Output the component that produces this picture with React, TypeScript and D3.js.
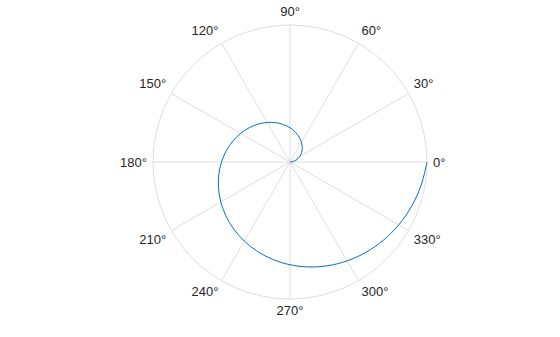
import React from "react";
import * as d3 from "d3";

// Spiral samples (theta in degrees, r in data units)
const thetaDeg = [0, 10, 20, 30, 40, 50, 60, 70, 80, 90, 100, 110, 120, 130, 140, 150, 160, 170, 180, 190, 200, 210, 220, 230, 240, 250, 260, 270, 280, 290, 300, 310, 320, 330, 340, 350, 360];
const rValues = [0, 0.175, 0.349, 0.524, 0.698, 0.873, 1.047, 1.222, 1.396, 1.571, 1.745, 1.92, 2.094, 2.269, 2.443, 2.618, 2.793, 2.967, 3.142, 3.316, 3.491, 3.665, 3.84, 4.014, 4.189, 4.363, 4.538, 4.712, 4.887, 5.061, 5.236, 5.411, 5.585, 5.76, 5.934, 6.109, 6.283];
const thetaTicks = [0, 30, 60, 90, 120, 150, 180, 210, 240, 270, 300, 330];
const rMax = 6.283;

export default function App() {
  const W = 560, H = 337;
  const cx = 290, cy = 162, R = 137;
  const rScale = d3.scaleLinear().domain([0, rMax]).range([0, R]);
  const toRad = (d: number) => (d * Math.PI) / 180;
  const pts: [number, number][] = thetaDeg.map((t, i) => [
    cx + rScale(rValues[i]) * Math.cos(toRad(t)),
    cy - rScale(rValues[i]) * Math.sin(toRad(t)),
  ]);
  const line = d3.line().curve(d3.curveCatmullRom.alpha(0.5));
  const gridColor = "#dedede";
  const labelR = R + 6;

  return (
    <div style={{ position: "fixed", left: 0, top: 0, width: W, height: H, background: "#fff" }}>
      <svg width={W} height={H} style={{ display: "block" }}>
        <rect width={W} height={H} fill="#fff" />
        {thetaTicks.slice(0, 6).map((t) => {
          const a = toRad(t);
          return (
            <line key={t} x1={cx + R * Math.cos(a)} y1={cy - R * Math.sin(a)} x2={cx - R * Math.cos(a)} y2={cy + R * Math.sin(a)} stroke={gridColor} strokeWidth={1} />
          );
        })}
        <circle cx={cx} cy={cy} r={R} fill="none" stroke={gridColor} strokeWidth={1} />
        <path d={line(pts) || ""} fill="none" stroke="#0072BD" strokeWidth={1} />
        {thetaTicks.map((t) => {
          const a = toRad(t);
          const c = Math.cos(a), s = Math.sin(a);
          const px = cx + labelR * c, py = cy - labelR * s;
          const anchor = c > 0.1 ? "start" : c < -0.1 ? "end" : "middle";
          const by = s > 0.1 ? py - 3 : s < -0.1 ? py + 10 : py + 4.5;
          return (
            <text key={t} x={px} y={by} textAnchor={anchor} fontFamily="'Liberation Sans', Arial, sans-serif" fontSize={13} fill="#262626">
              {t}°
            </text>
          );
        })}
      </svg>
    </div>
  );
}
